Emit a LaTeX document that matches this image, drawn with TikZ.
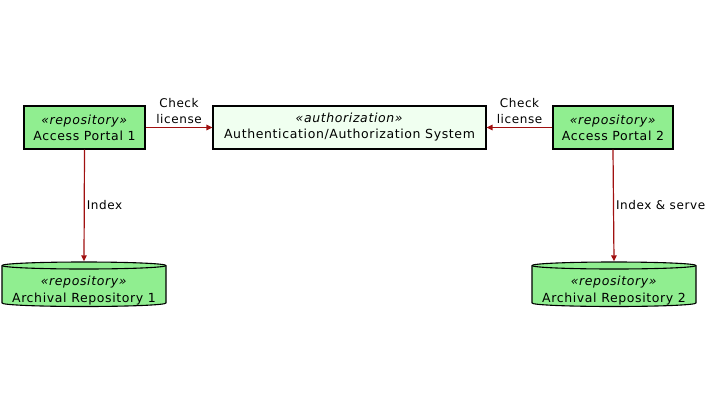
\documentclass[tikz,border=0pt]{standalone}
\usepackage{fontspec}
\setmainfont{DejaVu Sans}[LetterSpace=5]
\usetikzlibrary{arrows.meta}
\definecolor{boxgreen}{HTML}{90EE90}
\definecolor{paleg}{HTML}{F0FFF0}
\definecolor{arrowred}{HTML}{A01010}
\begin{document}
\begin{tikzpicture}[x=1pt,y=-1pt,
  comp/.style={draw=black, line width=1.1pt, fill=boxgreen, rectangle, align=center, font=\fontsize{12.5}{16}\selectfont, inner sep=0pt},
  dbshape/.style={draw=black, line width=1.1pt, fill=boxgreen, line join=round},
  dbbox/.style={draw=none, minimum width=164pt, minimum height=45pt, inner sep=0pt},
  dbtext/.style={align=center, font=\fontsize{12.5}{17}\selectfont, inner sep=0pt},
  conn/.style={draw=arrowred, line width=1.2pt, -{Triangle[length=6pt,width=5.5pt]}},
  lbl/.style={font=\fontsize{12}{16}\selectfont, align=center, inner sep=0pt}
]
\useasboundingbox (0,0) rectangle (720,405);
\node[comp, minimum width=121pt, minimum height=43pt] (ap1) at (84.5,127.5) {\textit{«repository»}\\Access Portal 1};
\node[comp, fill=paleg, minimum width=273pt, minimum height=43pt] (auth) at (349.5,127.5) {\textit{«authorization»}\\Authentication/Authorization System};
\node[comp, minimum width=120pt, minimum height=43pt] (ap2) at (613,127.5) {\textit{«repository»}\\Access Portal 2};
% database 1
\node[dbbox] (ar1) at (84,284) {};
\path[dbshape] (2,265.5) -- (2,303) arc[start angle=180,end angle=0,x radius=82,y radius=3.5] -- (166,265.5) arc[start angle=0,end angle=-180,x radius=82,y radius=3.5] -- cycle;
\draw[dbshape, fill=none] (2,265.5) arc[start angle=180,end angle=0,x radius=82,y radius=3.5];
\node[dbtext] (ar1t) at (84,291) {\textit{«repository»}\\Archival Repository 1};
% database 2
\node[dbbox] (ar2) at (614,284) {};
\path[dbshape] (532,265.5) -- (532,303) arc[start angle=180,end angle=0,x radius=82,y radius=3.5] -- (696,265.5) arc[start angle=0,end angle=-180,x radius=82,y radius=3.5] -- cycle;
\draw[dbshape, fill=none] (532,265.5) arc[start angle=180,end angle=0,x radius=82,y radius=3.5];
\node[dbtext] (ar2t) at (614,291) {\textit{«repository»}\\Archival Repository 2};
% connectors
\draw[conn] (ap1.south) -- (ar1.north) node[lbl, pos=0.5, right=2pt] (l3) {Index};
\draw[conn] (ap2.south) -- (ar2.north) node[lbl, pos=0.5, right=2pt] (l4) {Index \& serve};
\draw[conn] (ap1.east) -- (auth.west) node[lbl, pos=0.5, above=3pt] (l1) {Check\\license};
\draw[conn] (ap2.west) -- (auth.east) node[lbl, pos=0.5, above=3pt] (l2) {Check\\license};
\end{tikzpicture}
\end{document}
